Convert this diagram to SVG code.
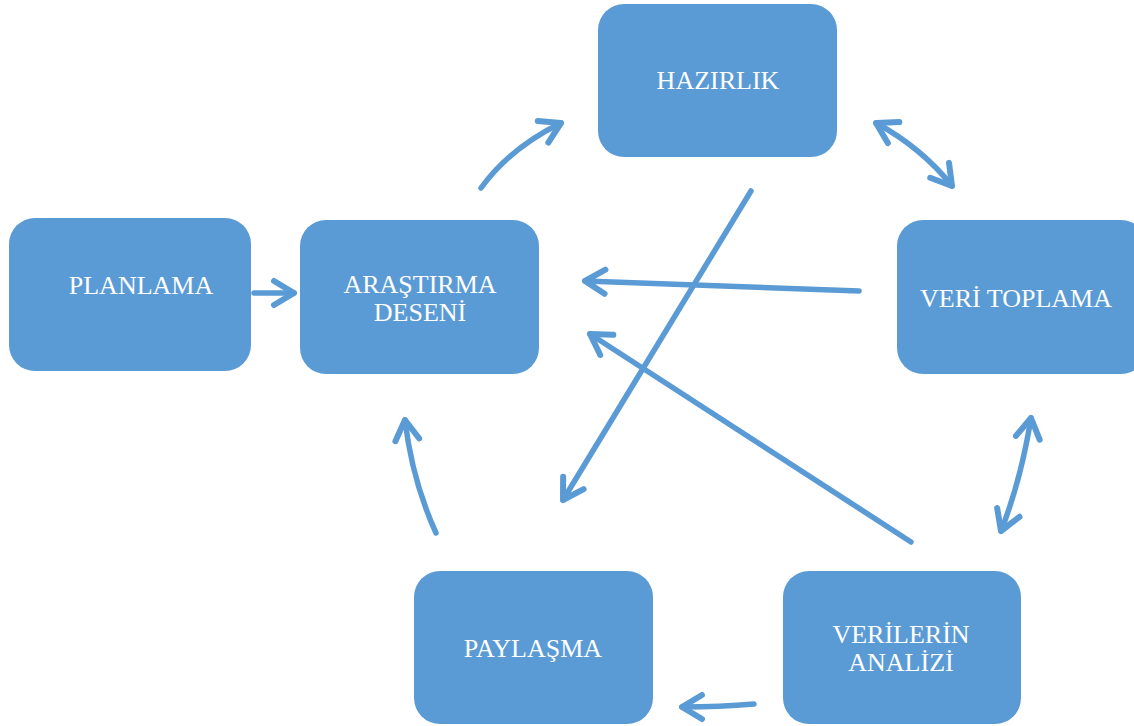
<svg xmlns="http://www.w3.org/2000/svg" width="1134" height="726" viewBox="0 0 1134 726">
<style>
.box{fill:#5B9BD5}
.t{fill:#fff;font-family:"Liberation Serif",serif;font-size:26px;text-anchor:middle}
.c{fill:none;stroke:#5B9BD5;stroke-width:5.5;stroke-linecap:round}
</style>
<defs>
<marker id="ah" viewBox="-30 -20 40 40" markerWidth="40" markerHeight="40" refX="0" refY="0" markerUnits="userSpaceOnUse" orient="auto-start-reverse" overflow="visible">
<path d="M-20,-12 L0,0 L-20,12" fill="none" stroke="#5B9BD5" stroke-width="6" stroke-linecap="round" stroke-linejoin="round"/>
</marker>
</defs>
<rect width="1134" height="726" fill="#fff"/>
<g id="planlama"><rect class="box" x="9" y="218" width="242" height="153" rx="26"/><text class="t" x="141" y="294">PLANLAMA</text></g>
<g id="arastirma"><rect class="box" x="300" y="220" width="239" height="154" rx="26"/><text class="t" x="420" y="293">ARAŞTIRMA</text><text class="t" x="420" y="321">DESENİ</text></g>
<g id="hazirlik"><rect class="box" x="598" y="4" width="239" height="153" rx="26"/><text class="t" x="718" y="89">HAZIRLIK</text></g>
<g id="veri-toplama"><rect class="box" x="897" y="220" width="250" height="154" rx="26"/><text class="t" x="1016" y="307">VERİ TOPLAMA</text></g>
<g id="paylasma"><rect class="box" x="414" y="571" width="239" height="153" rx="26"/><text class="t" x="533" y="657">PAYLAŞMA</text></g>
<g id="analiz"><rect class="box" x="783" y="571" width="238" height="153" rx="26"/><text class="t" x="901" y="643">VERİLERİN</text><text class="t" x="901" y="671">ANALİZİ</text></g>
<g id="connectors">
<path class="c" d="M254,293 L294,293" marker-end="url(#ah)"/>
<path class="c" d="M481,188 Q510,148 561,123" marker-end="url(#ah)"/>
<path class="c" d="M876,123 Q922,148 952,186" marker-start="url(#ah)" marker-end="url(#ah)"/>
<path class="c" d="M859,291 L585,281" marker-end="url(#ah)"/>
<path class="c" d="M911,542 L590,334" marker-end="url(#ah)"/>
<path class="c" d="M751,191 L563,500" marker-end="url(#ah)"/>
<path class="c" d="M1031,418 Q1021,480 1001,531" marker-start="url(#ah)" marker-end="url(#ah)"/>
<path class="c" d="M436,533 Q412,480 405,420" marker-end="url(#ah)"/>
<path class="c" d="M754,704 Q720,707 682,707" marker-end="url(#ah)"/>
</g>
</svg>
